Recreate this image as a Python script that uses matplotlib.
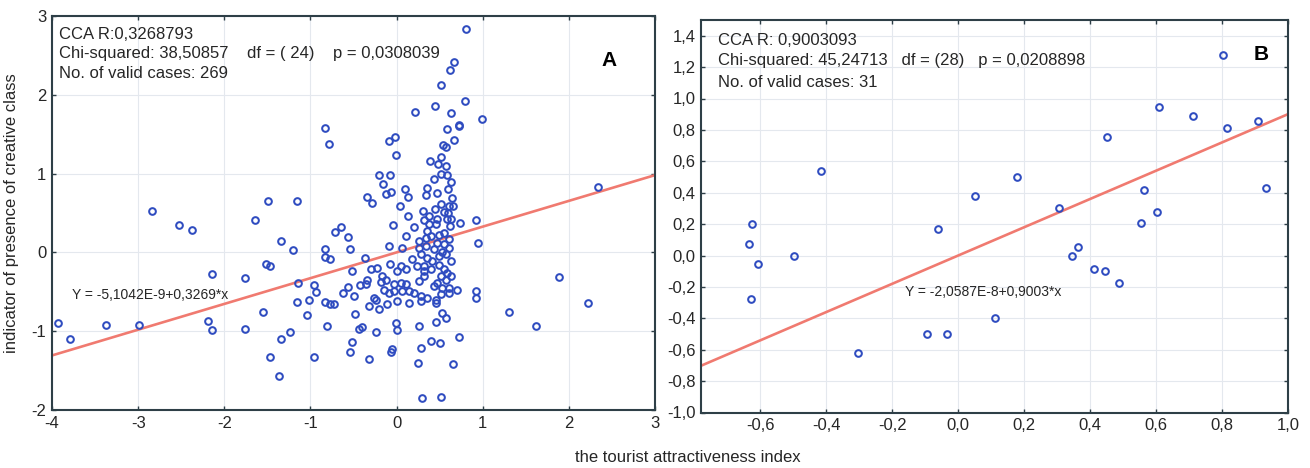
import matplotlib
matplotlib.use('Agg')
import matplotlib.pyplot as plt
from matplotlib.ticker import FuncFormatter, MultipleLocator

plt.rcParams['font.family'] = ['Liberation Sans', 'DejaVu Sans']
plt.rcParams['axes.unicode_minus'] = False

# panel A: tourist attractiveness index vs creative class indicator (269 cases)
a_x = [
    -3.93, -3.79, -3.37, -2.99, -2.84, -2.52, -2.38, -2.19, -2.14, -2.14,
    -1.76, -1.76, -1.64, -1.55, -1.52, -1.47, -1.49, -1.47, -1.34, -1.36,
    -1.34, -1.24, -1.20, -1.16, -1.14, -1.16, -1.02, -1.04, -0.96, -0.96,
    -0.94, -0.83, -0.79, -0.83, -0.83, -0.77, -0.83, -0.77, -0.73, -0.81,
    -0.72, -0.64, -0.62, -0.56, -0.54, -0.52, -0.56, -0.50, -0.52, -0.54,
    -0.48, -0.44, -0.42, -0.32, -0.09, -0.02, -0.01, -0.06, 0.21, 0.25,
    0.30, 0.45, 0.51, 0.51, 0.51, 0.59, 0.62, 0.67, 0.63, 0.67,
    0.54, 0.57, 0.72, 0.73, 0.79, 0.81, 0.99, 0.66, 1.31, 1.62,
    1.89, 2.22, 2.34,
    # dense cluster, upper part
    -0.206, -0.078, -0.159, -0.128, -0.070, -0.341, -0.291, 0.097, 0.136, 0.039,
    0.136, -0.043, 0.201, 0.306, 0.337, 0.357, 0.318, 0.376, 0.388, 0.484,
    0.574, 0.512, 0.581, 0.434, 0.628, 0.473, 0.601, 0.647, 0.512, 0.608,
    0.659, 0.550, 0.597, 0.446, 0.465, 0.581, 0.628, 0.620, 0.453, 0.376,
    0.349, 0.550, 0.733, 0.919,
    # dense cluster, middle part
    0.105, 0.260, 0.337, 0.395, 0.492, 0.608, 0.473, 0.550, -0.089, 0.066,
    0.260, 0.337, 0.434, 0.531, 0.608, 0.946, -0.372, 0.182, 0.279, 0.357,
    0.415, 0.492, 0.570, 0.628, -0.078, 0.047, 0.105, 0.008, 0.240, 0.318,
    0.318, 0.395, 0.492, 0.550, 0.589, 0.628, -0.302, -0.225, -0.167, -0.128,
    -0.341, -0.186, 0.047, -0.031, 0.105, 0.260, 0.318, 0.512, 0.570, 0.473,
    0.434, 0.531, 0.608, 0.705, -0.360, -0.147, -0.089, -0.031, 0.066, 0.143,
    0.202, 0.279, 0.357, 0.512, 0.608, 0.919, 0.919, -0.264,
    # dense cluster, lower part
    0.279, 0.143, -0.322, -0.244, -0.206, -0.109, -0.012, 0.008, -0.244, -0.399,
    0.260, 0.453, 0.531, 0.570, 0.395, 0.500, 0.725, 0.279, -0.050, 0.453,
    0.008, 0.453,
]
a_y = [
    -0.90, -1.10, -0.92, -0.92, 0.52, 0.35, 0.28, -0.87, -0.99, -0.27,
    -0.32, -0.97, 0.41, -0.76, -0.15, -0.17, 0.65, -1.33, 0.15, -1.57,
    -1.10, -1.01, 0.03, 0.65, -0.39, -0.63, -0.61, -0.79, -1.33, -0.42,
    -0.50, 1.58, 1.37, 0.04, -0.06, -0.08, -0.63, -0.65, -0.65, -0.94,
    0.26, 0.32, -0.51, 0.20, 0.04, -0.23, -0.44, -0.55, -1.14, -1.26,
    -0.78, -0.97, -0.42, -1.35, 1.41, 1.47, 1.24, -1.26, 1.78, -1.40,
    -1.85, 1.86, -1.83, 2.13, 1.21, 1.56, 2.32, 2.41, 1.77, 1.43,
    1.36, 1.34, 1.62, 1.60, 1.92, 2.83, 1.69, -1.41, -0.75, -0.94,
    -0.31, -0.64, 0.83,
    0.984, 0.984, 0.874, 0.747, 0.772, 0.704, 0.632, 0.802, 0.704, 0.589,
    0.462, 0.344, 0.322, 0.526, 0.725, 0.823, 0.407, 0.462, 1.162, 1.124,
    1.098, 1.001, 0.984, 0.929, 0.895, 0.759, 0.802, 0.687, 0.619, 0.589,
    0.589, 0.517, 0.496, 0.547, 0.428, 0.420, 0.428, 0.335, 0.356, 0.356,
    0.271, 0.250, 0.378, 0.407,
    0.208, 0.144, 0.187, 0.208, 0.216, 0.165, 0.123, 0.102, 0.080, 0.059,
    0.059, 0.080, 0.038, 0.004, 0.059, 0.123, -0.068, -0.089, -0.025, -0.068,
    -0.110, -0.047, -0.025, -0.110, -0.144, -0.174, -0.208, -0.237, -0.174, -0.174,
    -0.237, -0.216, -0.165, -0.216, -0.259, -0.301, -0.216, -0.195, -0.301, -0.344,
    -0.344, -0.377, -0.386, -0.407, -0.407, -0.365, -0.301, -0.301, -0.344, -0.386,
    -0.428, -0.449, -0.449, -0.471, -0.407, -0.471, -0.513, -0.492, -0.492, -0.492,
    -0.513, -0.556, -0.577, -0.534, -0.513, -0.492, -0.577, -0.577,
    -0.619, -0.640, -0.683, -0.598, -0.712, -0.653, -0.895, -0.980, -1.014, -0.950,
    -0.937, -0.882, -0.768, -0.831, -1.128, -1.149, -1.077, -1.213, -1.226, -0.598,
    -0.619, -0.640,
]

# panel B (31 cases)
b_x = [
    -0.633, -0.625, -0.608, -0.629, -0.497, -0.416, -0.305, -0.096, -0.035, -0.062,
    0.050, 0.113, 0.178, 0.306, 0.344, 0.362, 0.412, 0.444, 0.451, 0.489,
    0.554, 0.562, 0.604, 0.609, 0.711, 0.802, 0.815, 0.908, 0.934,
]
b_y = [
    0.074, 0.198, -0.057, -0.276, -0.002, 0.537, -0.624, -0.501, -0.501, 0.170,
    0.376, -0.397, 0.501, 0.302, -0.002, 0.057, -0.083, -0.096, 0.754, -0.172,
    0.208, 0.416, 0.280, 0.943, 0.888, 1.274, 0.813, 0.858, 0.433,
]

a_coef = (-5.1042e-9, 0.3269)
b_coef = (-2.0587e-8, 0.9003)

a_info = ['CCA R:0,3268793',
          'Chi-squared: 38,50857    df = ( 24)    p = 0,0308039',
          'No. of valid cases: 269']
b_info = ['CCA R: 0,9003093',
          'Chi-squared: 45,24713   df = (28)   p = 0,0208898',
          'No. of valid cases: 31']

POINT_COLOR = '#2f4cc0'
LINE_COLOR = '#f07a70'
SPINE_COLOR = '#2e3f47'


def comma_fmt(v, pos):
    return f'{v:.1f}'.replace('.', ',')


def eq_text(coef):
    a, b = coef
    m, e = f'{a:.4E}'.split('E')
    return f'Y = {m.replace(".", ",")}E{int(e)}+{str(b).replace(".", ",")}*x'


def style_axes(ax):
    for s in ax.spines.values():
        s.set_color(SPINE_COLOR)
        s.set_linewidth(1.5)
    ax.tick_params(direction='in', length=3, width=1, color=SPINE_COLOR,
                   top=True, right=True, labelsize=12, pad=4,
                   labelcolor='#262626')
    ax.grid(True, color='#e4e8ee', linewidth=0.8)
    ax.set_axisbelow(True)


def panel(ax, xs, ys, coef, xlim, info, info_pos, letter, letter_pos, eq_pos):
    x0, x1 = xlim
    ax.plot([x0, x1], [coef[0] + coef[1] * x0, coef[0] + coef[1] * x1],
            color=LINE_COLOR, lw=1.9, zorder=2)
    ax.plot(xs, ys, 'o', ms=4.8, mfc='none', mec=POINT_COLOR, mew=1.45,
            zorder=3)
    ax.set_xlim(xlim)
    for i, line in enumerate(info):
        ax.text(info_pos[0], info_pos[1][i], line, transform=ax.transAxes,
                fontsize=12, va='center', ha='left', color='#262626')
    ax.text(letter_pos[0], letter_pos[1], letter, transform=ax.transAxes,
            fontsize=15, fontweight='bold', ha='center', va='center')
    ax.text(eq_pos[0], eq_pos[1], eq_text(coef), transform=ax.transAxes,
            fontsize=10, ha='center', va='center', color='#262626')
    style_axes(ax)


fig = plt.figure(figsize=(13.1, 4.68), dpi=100)

ax_a = fig.add_axes([52 / 1310, 58 / 468, 603 / 1310, 394 / 468])
panel(ax_a, a_x, a_y, a_coef, (-4, 3), a_info,
      (0.012, [0.954, 0.906, 0.855]), 'A', (0.924, 0.886), (0.1625, 0.292))
ax_a.set_ylim(-2, 3)
ax_a.xaxis.set_major_locator(MultipleLocator(1))
ax_a.yaxis.set_major_locator(MultipleLocator(1))
ax_a.set_ylabel('indicator of presence of creative class', fontsize=12,
                labelpad=9, color='#262626')

ax_b = fig.add_axes([701 / 1310, 55.5 / 468, 587 / 1310, 392.5 / 468])
panel(ax_b, b_x, b_y, b_coef, (-0.78, 1.0), b_info,
      (0.029, [0.9465, 0.898, 0.8395]), 'B', (0.955, 0.913), (0.48, 0.307))
ax_b.set_ylim(-1.0, 1.5)
ax_b.set_xticks([-0.6, -0.4, -0.2, 0.0, 0.2, 0.4, 0.6, 0.8, 1.0])
ax_b.set_yticks([-1.0, -0.8, -0.6, -0.4, -0.2, 0.0, 0.2, 0.4, 0.6, 0.8,
                 1.0, 1.2, 1.4])
ax_b.xaxis.set_major_formatter(FuncFormatter(comma_fmt))
ax_b.yaxis.set_major_formatter(FuncFormatter(comma_fmt))

fig.text(688 / 1310, 1 - 458 / 468, 'the tourist attractiveness index',
         fontsize=12, ha='center', va='center', color='#262626')

fig.savefig('out.png', dpi=100, facecolor='white')
